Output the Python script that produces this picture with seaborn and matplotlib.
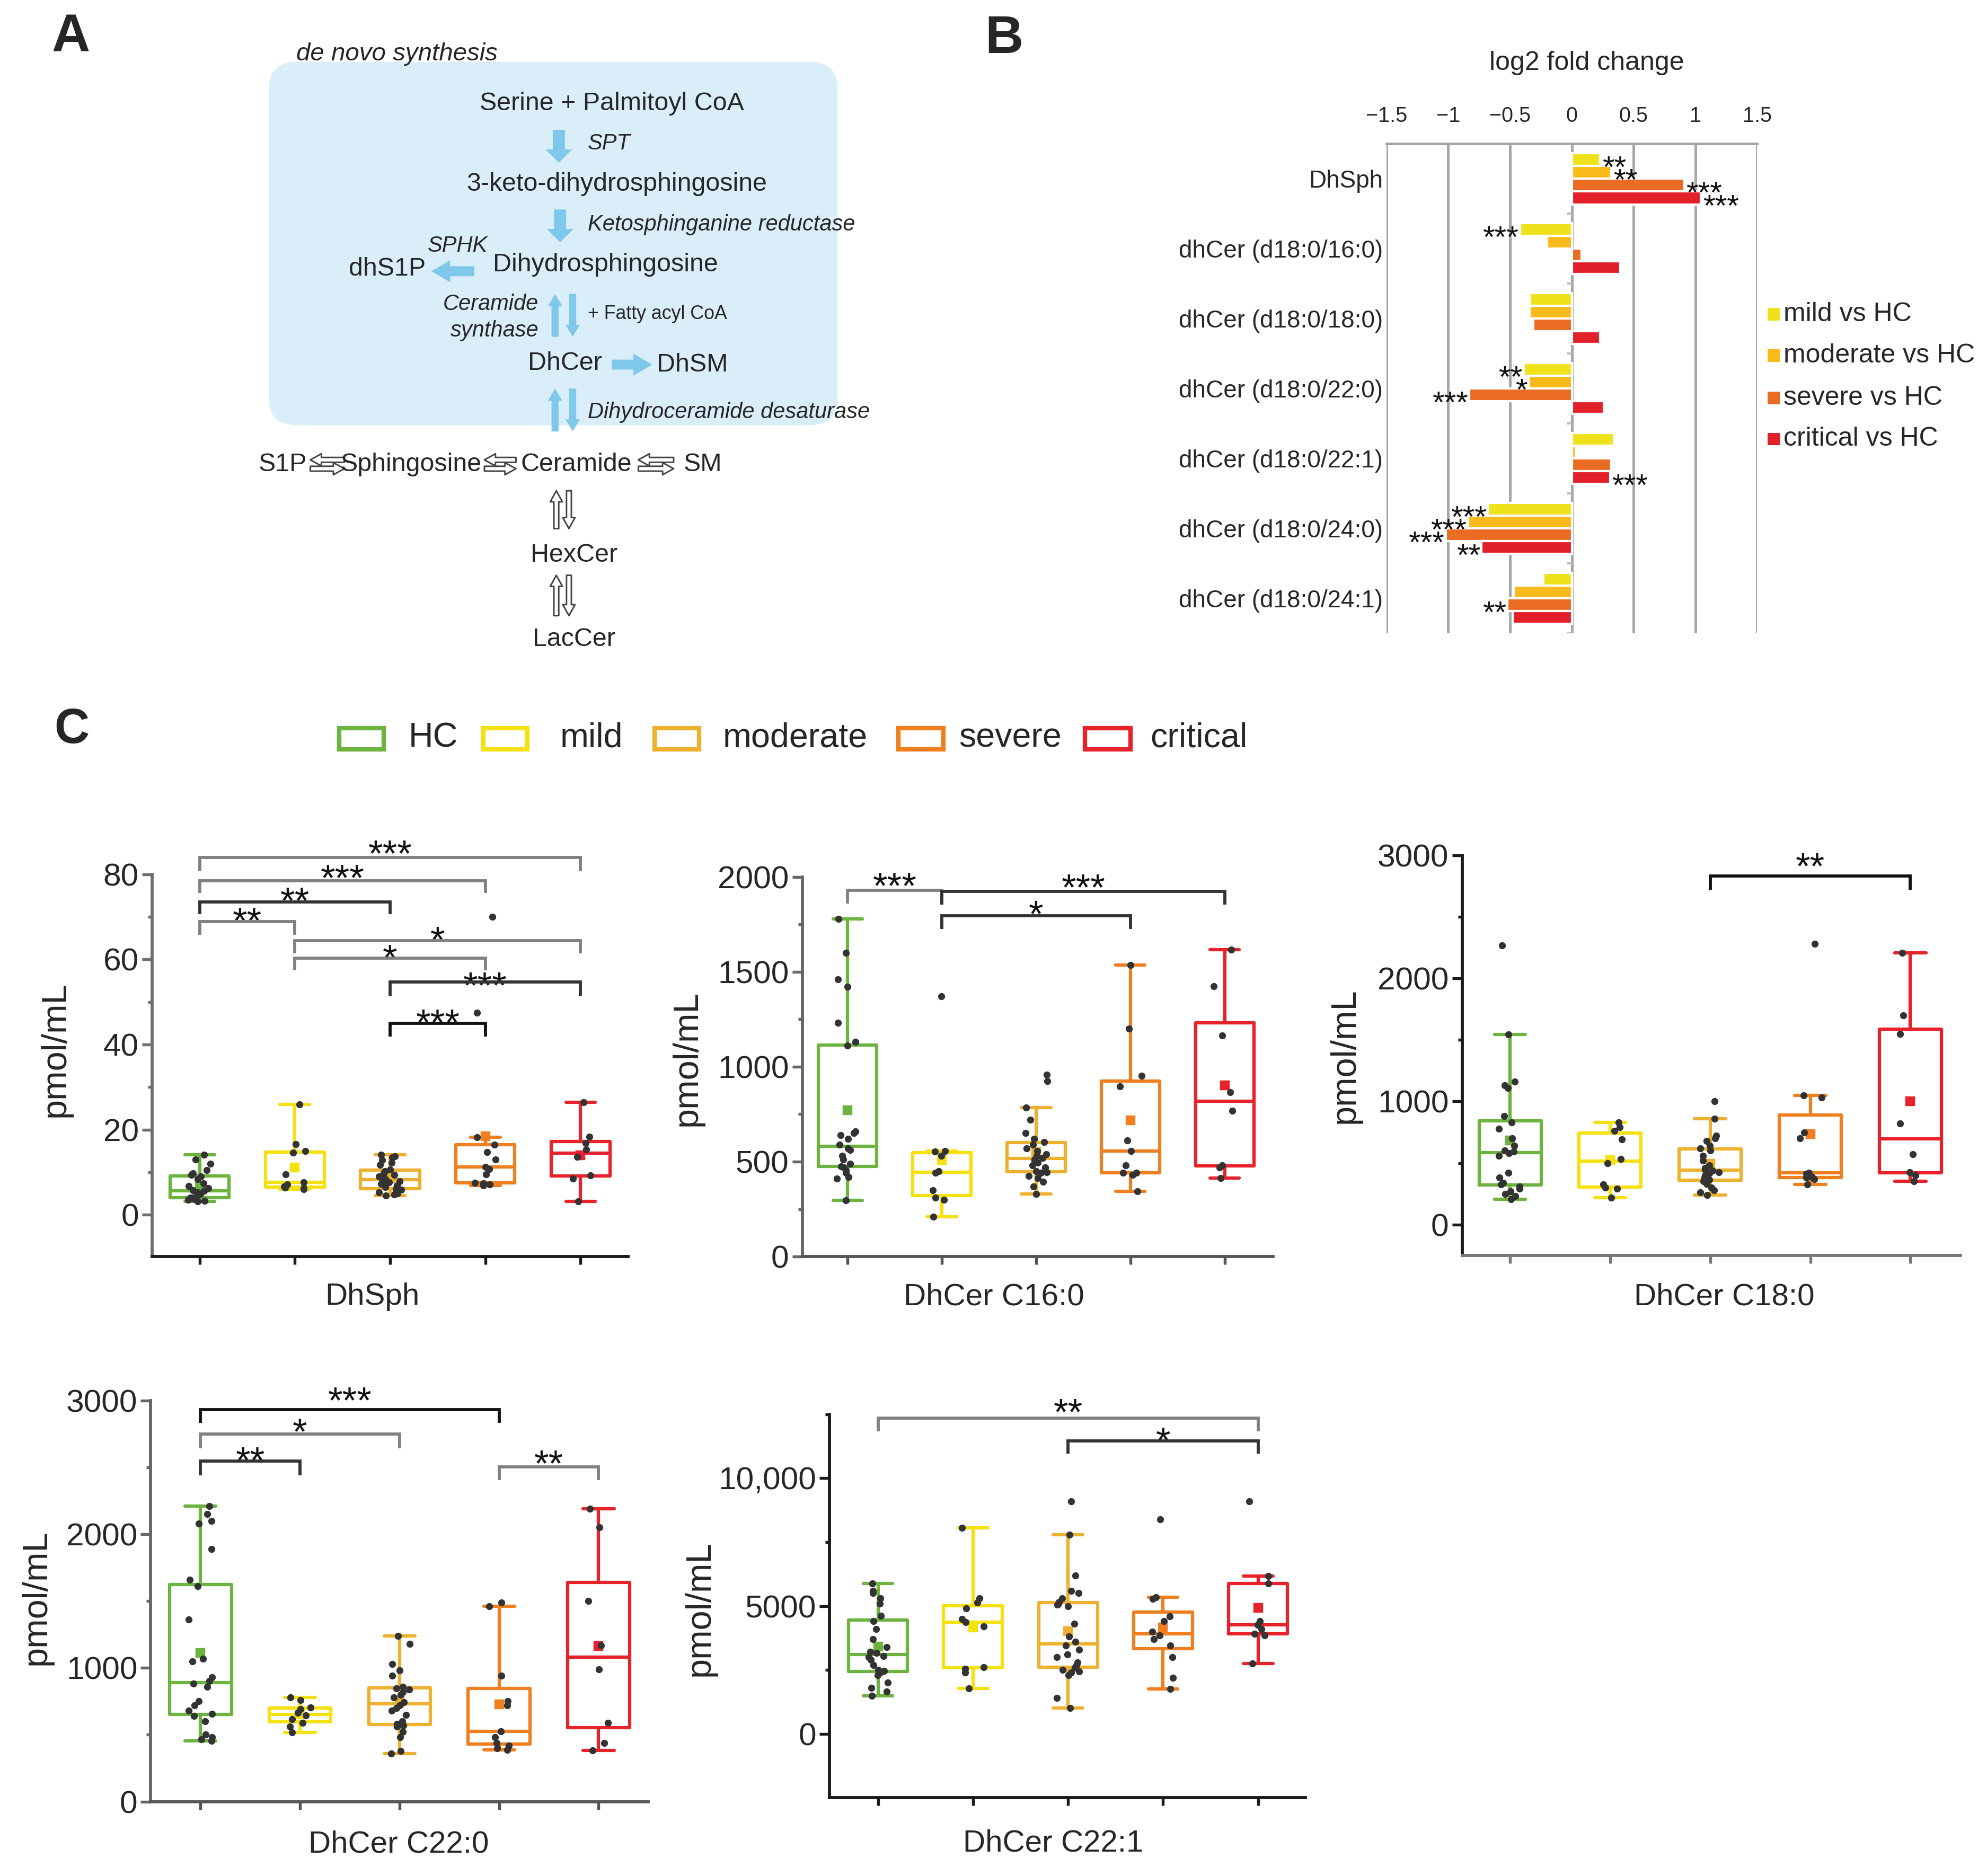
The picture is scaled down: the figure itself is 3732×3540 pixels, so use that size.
import numpy as np
import pandas as pd
import matplotlib
matplotlib.use("Agg")
import matplotlib.pyplot as plt
from matplotlib import font_manager
from matplotlib.patches import FancyBboxPatch, FancyArrowPatch, Rectangle
import seaborn as sns

# ---------------------------------------------------------------- data
GROUPS = ["HC", "mild", "moderate", "severe", "critical"]
GROUP_COLORS = ["#6DB33F", "#F5E10F", "#EDB02F", "#F07F1F", "#E8222B"]

DHSPH = {
    "HC": [3.1, 3.3, 3.5, 3.7, 3.9, 4.0, 4.0, 4.3, 4.6, 4.9, 5.3, 5.6, 5.8, 6.3, 6.8, 7.4,
           8.4, 9.0, 9.4, 9.8, 10.5, 12.0, 13.0, 14.1],
    "mild": [6.0, 6.3, 6.4, 6.6, 7.2, 7.7, 9.5, 14.6, 15.0, 16.6, 26.0],
    "moderate": [4.5, 4.8, 5.0, 5.3, 5.6, 5.9, 6.1, 6.5, 6.9, 7.3, 7.6, 7.9, 8.2, 8.4, 8.7,
                 9.0, 9.4, 9.8, 10.3, 10.6, 11.7, 12.3, 12.9, 13.5, 13.8, 14.1],
    "severe": [6.9, 7.2, 7.4, 7.5, 9.5, 10.8, 11.2, 13.0, 14.8, 16.5, 18.2, 47.5, 70.0],
    "critical": [3.2, 8.5, 9.3, 13.6, 15.4, 16.8, 18.4, 26.5],
}
DHCER_C16 = {
    "HC": [295, 410, 420, 440, 455, 470, 475, 490, 510, 530, 560, 570, 590, 620, 640, 650,
           660, 1110, 1130, 1230, 1420, 1460, 1600, 1778],
    "mild": [209, 300, 310, 350, 440, 450, 530, 554, 557, 1370],
    "moderate": [331, 370, 395, 413, 425, 440, 444, 450, 470, 480, 495, 505, 512, 520, 530,
                 540, 555, 570, 590, 603, 620, 650, 720, 785, 925, 957],
    "severe": [344, 430, 440, 442, 480, 557, 611, 897, 953, 1200, 1535],
    "critical": [413, 470, 480, 768, 866, 1165, 1425, 1617],
}
DHCER_C18 = {
    "HC": [205, 230, 250, 270, 290, 310, 325, 340, 380, 420, 560, 580, 592, 600, 640, 700,
           780, 830, 880, 1110, 1130, 1160, 1546, 2270],
    "mild": [218, 290, 300, 325, 500, 534, 690, 760, 790, 831],
    "moderate": [238, 260, 280, 300, 330, 350, 360, 365, 380, 400, 415, 425, 440, 448, 460,
                 480, 520, 560, 600, 620, 640, 680, 700, 720, 858, 1000],
    "severe": [328, 370, 380, 388, 410, 420, 700, 750, 1032, 1050, 2280],
    "critical": [351, 400, 427, 570, 820, 1550, 1700, 2208],
}
DHCER_C22_0 = {
    "HC": [453, 465, 480, 500, 600, 640, 656, 680, 720, 750, 860, 880, 902, 930, 1050, 1070,
           1360, 1610, 1660, 1890, 2080, 2100, 2150, 2209],
    "mild": [516, 560, 590, 615, 645, 663, 690, 705, 760, 780],
    "moderate": [357, 380, 480, 520, 560, 568, 580, 600, 650, 680, 700, 720, 744, 780, 800,
                 820, 840, 846, 860, 940, 980, 1030, 1180, 1238],
    "severe": [387, 400, 420, 440, 480, 526, 720, 750, 940, 1460, 1490],
    "critical": [382, 440, 590, 990, 1168, 1500, 2050, 2190],
}
DHCER_C22_1 = {
    "HC": [1480, 1650, 1800, 2000, 2300, 2400, 2458, 2500, 2700, 2900, 3000, 3050, 3158, 3200,
           3400, 3700, 4100, 4400, 4610, 5100, 5300, 5500, 5600, 5878],
    "mild": [1783, 2400, 2552, 2600, 4200, 4360, 4500, 4900, 5140, 5300, 8058],
    "moderate": [1017, 1400, 2300, 2400, 2450, 2500, 2580, 2690, 2800, 3000, 3100, 3300, 3450,
                 3604, 3800, 4300, 5000, 5050, 5100, 5150, 5300, 5500, 5600, 6200, 7794, 9100],
    "severe": [1757, 2200, 3000, 3456, 3700, 3850, 3996, 4400, 4600, 5280, 5350, 8400],
    "critical": [2761, 3850, 3923, 4100, 4267, 4400, 5878, 6169, 9100],
}

# panel B: log2 fold change
LIPIDS = ["DhSph", "dhCer (d18:0/16:0)", "dhCer (d18:0/18:0)", "dhCer (d18:0/22:0)",
          "dhCer (d18:0/22:1)", "dhCer (d18:0/24:0)", "dhCer (d18:0/24:1)"]
COMPARISONS = ["mild vs HC", "moderate vs HC", "severe vs HC", "critical vs HC"]
B_COLORS = ["#F0E21A", "#F9BA1C", "#EA6B22", "#E2202A"]
LFC_MILD = [0.23, -0.42, -0.34, -0.39, 0.34, -0.68, -0.23]
LFC_MODERATE = [0.32, -0.20, -0.34, -0.35, 0.03, -0.84, -0.47]
LFC_SEVERE = [0.91, 0.08, -0.31, -0.83, 0.32, -1.02, -0.52]
LFC_CRITICAL = [1.045, 0.39, 0.23, 0.26, 0.31, -0.73, -0.48]
SIG_MILD = ["**", "***", "", "**", "", "***", ""]
SIG_MODERATE = ["**", "", "", "*", "", "***", ""]
SIG_SEVERE = ["***", "", "", "***", "", "***", "**"]
SIG_CRITICAL = ["***", "", "", "", "***", "**", ""]
B_TICKS = [-1.5, -1, -0.5, 0, 0.5, 1, 1.5]
B_TICKLABELS = ["\u22121.5", "\u22121", "\u22120.5", "0", "0.5", "1", "1.5"]

# significance brackets: (group i, group j, bar level, leg end, label, star centre, colour)
GRAY, DARK, BLACK = "#808080", "#333333", "#111111"
BR_DHSPH = [(0, 4, 83.9, 80.7, "***", 87.0, GRAY), (0, 3, 78.5, 75.6, "***", 81.3, GRAY),
            (0, 2, 73.5, 70.6, "**", 76.0, DARK), (0, 1, 68.9, 65.8, "**", 71.3, GRAY),
            (1, 4, 64.4, 61.4, "*", 66.8, GRAY), (1, 3, 60.3, 57.4, "*", 62.5, GRAY),
            (2, 4, 54.7, 51.5, "***", 56.0, DARK), (2, 3, 45.0, 41.9, "***", 47.4, BLACK)]
BR_C16 = [(0, 1, 1929, 1860, "***", 2000, GRAY), (1, 4, 1922, 1853, "***", 1993, DARK),
          (1, 3, 1795, 1724, "*", 1853, DARK)]
BR_C18 = [(2, 4, 2834, 2722, "**", 2987, BLACK)]
BR_C22_0 = [(0, 3, 2931, 2830, "***", 3067, BLACK), (0, 2, 2747, 2642, "*", 2836, GRAY),
            (0, 1, 2546, 2438, "**", 2622, DARK), (3, 4, 2501, 2403, "**", 2596, GRAY)]
BR_C22_1 = [(0, 4, 12351, 11823, "**", 12946, GRAY), (2, 4, 11453, 10964, "*", 11823, DARK)]

# ---------------------------------------------------------------- style
sns.set_style("ticks")
names = {f.name for f in font_manager.fontManager.ttflist}
BASE = "Liberation Sans" if "Liberation Sans" in names else "DejaVu Sans"
if "Liberation Sans Narrow" in names:
    NARROW, NSC = "Liberation Sans Narrow", 1.0
else:
    NARROW, NSC = BASE, 0.86
plt.rcParams["font.family"] = [BASE, "DejaVu Sans"]
plt.rcParams["axes.unicode_minus"] = True

W, H = 1568.0, 1487.0
fig = plt.figure(figsize=(3732 / 300, 3540 / 300), dpi=300)
ov = fig.add_axes([0, 0, 1, 1])
ov.set_xlim(0, W)
ov.set_ylim(H, 0)
ov.axis("off")


def rect(l, t, r, b):
    return [l / W, 1 - b / H, (r - l) / W, (b - t) / H]


def T(x, y, s, size, ha="center", va="center", style="normal", weight="normal",
      family=None, **kw):
    ov.text(x, y, s, fontsize=size, ha=ha, va=va, style=style, weight=weight,
            family=[family or BASE, "DejaVu Sans"], **kw)


def arrow(x0, y0, x1, y1, tw, hw, hl, fc, ec="none", lw=0.0):
    p = FancyArrowPatch((x0, y0), (x1, y1),
                        arrowstyle=f"simple,head_length={hl},head_width={hw},tail_width={tw}",
                        mutation_scale=10, fc=fc, ec=ec, lw=lw, shrinkA=0, shrinkB=0,
                        transform=ov.transData, clip_on=False)
    ov.add_patch(p)


# ---------------------------------------------------------------- panel A
BLUE_BG, BLUE = "#D9EEF8", "#7EC8EC"
T(56, 30, "A", 24, weight="bold")
ov.add_patch(FancyBboxPatch((213, 49), 451, 288, boxstyle="round,pad=0,rounding_size=22",
                            fc=BLUE_BG, ec="none"))
T(235, 43, "de novo synthesis", 11.4, ha="left", style="italic")
NS = 13.5 * NSC
T(485, 82, "Serine + Palmitoyl CoA", NS, family=NARROW)
arrow(443, 103, 443, 129, 0.55, 1.2, 0.6, BLUE)
T(466, 114, "SPT", 10, ha="left", style="italic")
T(489, 146, "3-keto-dihydrosphingosine", NS, family=NARROW)
arrow(444, 166, 444, 192, 0.55, 1.2, 0.6, BLUE)
T(466, 178, "Ketosphinganine reductase", 10, ha="left", style="italic")
T(339, 195, "SPHK", 10, ha="left", style="italic")
T(307, 213, "dhS1P", NS, family=NARROW)
arrow(376, 215, 342, 215, 0.45, 1.0, 0.85, BLUE)
T(480, 210, "Dihydrosphingosine", NS, family=NARROW)
arrow(440, 267, 440, 233, 0.32, 0.65, 0.55, BLUE)
arrow(454, 233, 454, 267, 0.32, 0.65, 0.55, BLUE)
T(427, 241, "Ceramide", 10, ha="right", style="italic")
T(427, 262, "synthase", 10, ha="right", style="italic")
T(466, 249, "+ Fatty acyl CoA", 10 * NSC, ha="left", family=NARROW)
T(448, 288, "DhCer", NS, family=NARROW)
arrow(485, 289, 517, 289, 0.45, 1.0, 0.85, BLUE)
T(549, 289, "DhSM", NS, family=NARROW)
arrow(440, 342, 440, 308, 0.32, 0.65, 0.55, BLUE)
arrow(454, 308, 454, 342, 0.32, 0.65, 0.55, BLUE)
T(466, 327, "Dihydroceramide desaturase", 10, ha="left", style="italic")

ROW_Y = 368
T(224, ROW_Y, "S1P", NS, family=NARROW)
T(326, ROW_Y, "Sphingosine", NS, family=NARROW)
T(457, ROW_Y, "Ceramide", NS, family=NARROW)
T(557, ROW_Y, "SM", NS, family=NARROW)
for (xa, xb) in [(246, 273), (384, 409), (506, 534)]:
    arrow(xb, ROW_Y - 3.5, xa, ROW_Y - 3.5, 0.22, 0.55, 0.5, "white", "#444444", 0.7)
    arrow(xa, ROW_Y + 3.5, xb, ROW_Y + 3.5, 0.22, 0.55, 0.5, "white", "#444444", 0.7)
for (ya, yb) in [(389, 419), (456, 488)]:
    arrow(441, yb, 441, ya, 0.22, 0.55, 0.5, "white", "#444444", 0.7)
    arrow(451, ya, 451, yb, 0.22, 0.55, 0.5, "white", "#444444", 0.7)
T(455, 440, "HexCer", NS, family=NARROW)
T(455, 507, "LacCer", NS, family=NARROW)

# ---------------------------------------------------------------- panel B
T(796, 31, "B", 24, weight="bold")
axb = fig.add_axes(rect(1099, 114, 1393, 502))
df_b = pd.DataFrame({
    "lipid": LIPIDS * 4,
    "comparison": np.repeat(COMPARISONS, len(LIPIDS)),
    "value": LFC_MILD + LFC_MODERATE + LFC_SEVERE + LFC_CRITICAL,
})
sns.barplot(data=df_b, x="value", y="lipid", hue="comparison", order=LIPIDS,
            hue_order=COMPARISONS, palette=B_COLORS, orient="h", width=0.73, gap=0,
            errorbar=None, saturation=1, legend=False, ax=axb, zorder=3)
axb.set_xlim(-1.5, 1.5)
axb.set_ylim(len(LIPIDS) - 0.5, -0.5)
axb.xaxis.tick_top()
axb.set_xticks(B_TICKS)
axb.set_xticklabels(B_TICKLABELS, fontsize=9.5)
axb.tick_params(axis="x", length=0, pad=8)
axb.tick_params(axis="y", length=0, pad=1.5, labelsize=11)
axb.set_xlabel("")
axb.set_ylabel("")
axb.grid(axis="x", color="#A6A6A6", lw=1.2)
axb.grid(axis="y", visible=False)
axb.set_axisbelow(True)
for s in ["left", "right", "bottom"]:
    axb.spines[s].set_visible(False)
axb.spines["top"].set_color("#A6A6A6")
axb.spines["top"].set_linewidth(1.2)
axb.hlines(np.arange(len(LIPIDS)) + 0.5, -0.035, 0, color="#BBBBBB", lw=1.0, zorder=2)
axb.text(0.54, 1.165, "log2 fold change", transform=axb.transAxes, ha="center",
         va="center", fontsize=12)
SIGS = [SIG_MILD, SIG_MODERATE, SIG_SEVERE, SIG_CRITICAL]
FS_B = 14
for ci, cont in enumerate(axb.containers):
    for bi, bar in enumerate(cont):
        lab = SIGS[ci][bi]
        if not lab:
            continue
        w = bar.get_width()
        yc = bar.get_y() + bar.get_height() / 2
        if w > 0:
            xs, ha = w + 0.015, "left"
        else:
            xs, ha = w - 0.01, "right"
        axb.annotate(lab, xy=(xs, yc), xytext=(0, -0.58 * FS_B), textcoords="offset points",
                     ha=ha, va="baseline", fontsize=FS_B, color="#111111",
                     annotation_clip=False, zorder=6)
for k, (lab, col) in enumerate(zip(COMPARISONS, B_COLORS)):
    yy = [249, 282, 315.5, 348][k]
    ov.add_patch(Rectangle((1401, yy - 5), 10, 10, fc=col, ec="none"))
    T(1414, yy, lab, 12, ha="left")

# ---------------------------------------------------------------- panel C
T(57, 579, "C", 22, weight="bold")
LEG = [(269, 304, 324), (383, 418, 444), (519, 554, 573), (712, 748, 760), (860, 896, 912)]
for g, col, (x0, x1, xt) in zip(GROUPS, GROUP_COLORS, LEG):
    ov.add_patch(Rectangle((x0, 577), x1 - x0, 17, fc="white", ec=col, lw=2.0))
    T(xt, 585, g, 15.5, ha="left")

FS_C = 17


def box_panel(ax, data, xlim, ylim, majors, major_labels, minors, brs, colors, seed):
    df = pd.DataFrame({
        "group": np.repeat(GROUPS, [len(data[g]) for g in GROUPS]),
        "value": np.concatenate([np.asarray(data[g], float) for g in GROUPS]),
    })
    sns.boxplot(data=df, x="group", y="value", hue="group", order=GROUPS, hue_order=GROUPS,
                palette=GROUP_COLORS, fill=False, width=0.62, linewidth=1.5, whis=1.5,
                showfliers=False, legend=False, ax=ax)
    sns.pointplot(data=df, x="group", y="value", hue="group", order=GROUPS,
                  hue_order=GROUPS, palette=GROUP_COLORS, estimator="mean", errorbar=None,
                  marker="s", markersize=2.4, linestyle="none", legend=False, ax=ax)
    np.random.seed(seed)
    sns.stripplot(data=df, x="group", y="value", order=GROUPS, color="#333333", size=3.2,
                  jitter=0.12, ax=ax, zorder=4)
    ax.set_xlim(*xlim)
    ax.set_ylim(*ylim)
    ax.set_yticks(majors)
    ax.set_yticklabels(major_labels)
    ax.set_yticks(minors, minor=True)
    ax.set_xticks(range(len(GROUPS)))
    ax.set_xticklabels([])
    ax.set_xlabel("")
    ax.set_ylabel("")
    for s in ["top", "right"]:
        ax.spines[s].set_visible(False)
    ax.spines["left"].set_color(colors[0])
    ax.spines["bottom"].set_color(colors[1])
    ax.spines["left"].set_linewidth(1.4)
    ax.spines["bottom"].set_linewidth(1.4)
    ax.tick_params(axis="y", which="major", length=4.5, width=1.3, labelsize=14.5, pad=1.5,
                   color=colors[0])
    ax.tick_params(axis="y", which="minor", length=2.0, width=1.3, color=colors[0])
    ax.tick_params(axis="x", length=3.7, width=1.3, color=colors[1])
    for (i, j, ytop, yleg, lab, ystar, col) in brs:
        ax.plot([i, i, j, j], [yleg, ytop, ytop, yleg], color=col, lw=1.4, clip_on=False,
                solid_capstyle="butt", solid_joinstyle="miter", zorder=5)
        ax.annotate(lab, xy=((i + j) / 2, ystar), xytext=(0, -0.58 * FS_C),
                    textcoords="offset points", ha="center", va="baseline", fontsize=FS_C,
                    color="#111111", annotation_clip=False)


ax1 = fig.add_axes(rect(120.5, 693, 498, 996))
box_panel(ax1, DHSPH, (-0.5, 4.5), (-9.8, 80), [0, 20, 40, 60, 80],
          ["0", "20", "40", "60", "80"], [10, 30, 50, 70], BR_DHSPH, ("#6E6E6E", "#1A1A1A"), 1)
ax2 = fig.add_axes(rect(636, 695, 1009, 996))
box_panel(ax2, DHCER_C16, (-0.48, 4.51), (0, 2000), [0, 500, 1000, 1500, 2000],
          ["0", "500", "1000", "1500", "2000"], [250, 750, 1250, 1750], BR_C16,
          ("#666666", "#555555"), 2)
ax3 = fig.add_axes(rect(1159, 678, 1554, 995))
box_panel(ax3, DHCER_C18, (-0.48, 4.5), (-250, 3000), [0, 1000, 2000, 3000],
          ["0", "1000", "2000", "3000"], [500, 1500, 2500], BR_C18,
          ("#1A1A1A", "#777777"), 3)
ax4 = fig.add_axes(rect(119.5, 1110, 514, 1428))
box_panel(ax4, DHCER_C22_0, (-0.5, 4.5), (0, 3000), [0, 1000, 2000, 3000],
          ["0", "1000", "2000", "3000"], [500, 1500, 2500], BR_C22_0,
          ("#666666", "#555555"), 4)
ax5 = fig.add_axes(rect(657.6, 1121, 1035, 1425))
box_panel(ax5, DHCER_C22_1, (-0.51, 4.5), (-2500, 12500), [0, 5000, 10000],
          ["0", "5000", "10,000"], [2500, 7500, 12500], BR_C22_1,
          ("#1A1A1A", "#1A1A1A"), 5)

for (x, y, s) in [(295, 1028, "DhSph"), (788, 1028, "DhCer C16:0"), (1367, 1028, "DhCer C18:0"),
                  (316, 1462, "DhCer C22:0"), (835, 1461, "DhCer C22:1")]:
    T(x, y, s, 14)
for (x, y) in [(44, 832), (545, 839), (1066, 837), (29, 1266), (555, 1275)]:
    T(x, y, "pmol/mL", 16, rotation=90)

fig.savefig("out.png", dpi=300)
